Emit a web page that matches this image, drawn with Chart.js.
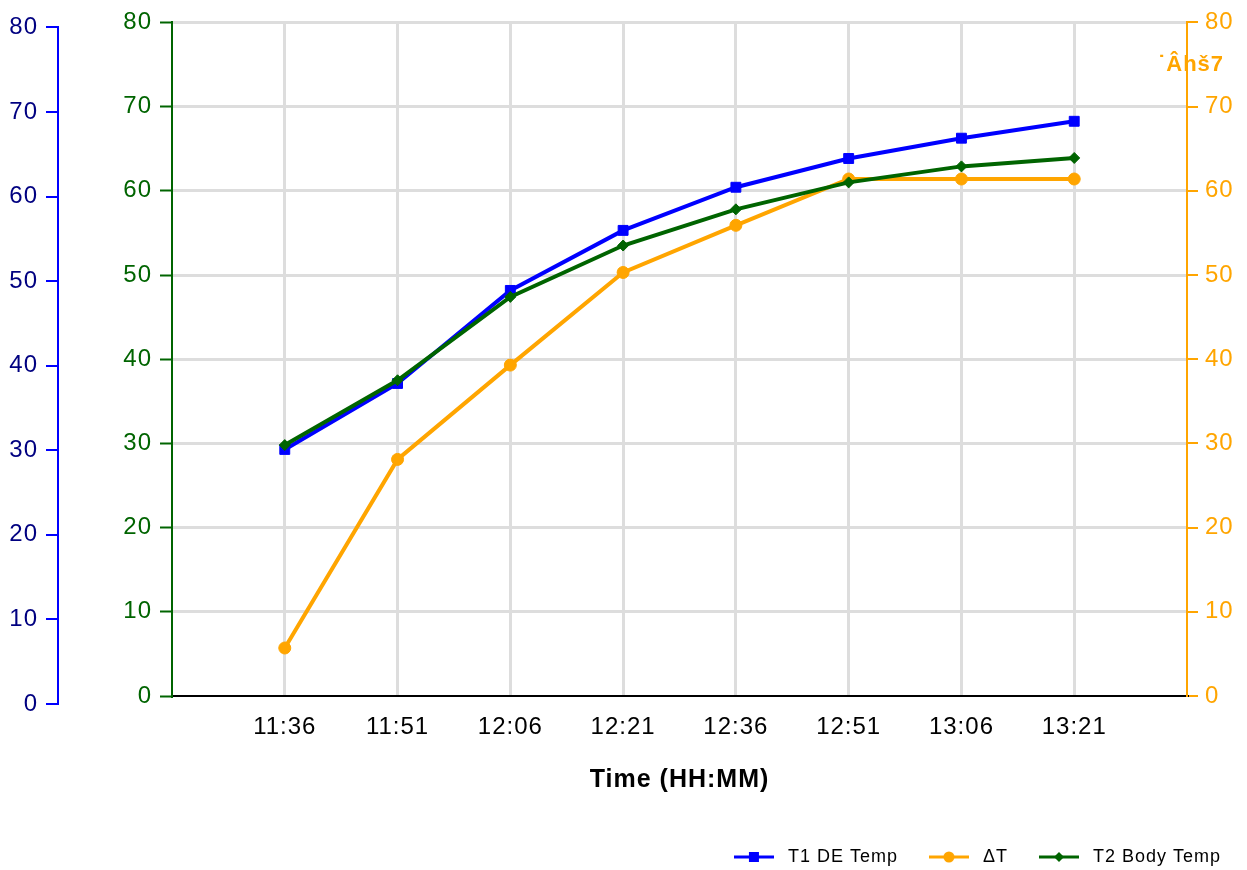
<!DOCTYPE html>
<html>
<head>
<meta charset="utf-8">
<script src="https://cdn.jsdelivr.net/npm/chart.js@4"></script>
<style>
  html, body { margin: 0; padding: 0; background: #fff; }
  #wrap { width: 1247px; height: 870px; }
</style>
</head>
<body>
<div id="wrap"><canvas id="graficaTemp"></canvas></div>
<script>
// datos
const horas = ['11:36', '11:51', '12:06', '12:21', '12:36', '12:51', '13:06', '13:21'];
const t1DeTemp = [30.1, 37.9, 48.9, 56.0, 61.1, 64.5, 66.9, 68.9];
const deltaT = [5.7, 28.1, 39.3, 50.3, 55.9, 61.4, 61.4, 61.4];
const t2BodyTemp = [29.8, 37.5, 47.4, 53.5, 57.8, 61.0, 62.9, 63.9];
const ticksY = [0, 10, 20, 30, 40, 50, 60, 70, 80];
const tituloDeltaT = '˙Âhš7';

const FUENTE = "'Liberation Sans', Arial, sans-serif";
const AZUL = '#0000FF';
const AZUL_OSC = '#000080';
const NARANJA = '#FFA500';
const VERDE = '#006400';
const GRIS = '#dddddd';

function puntos(valores) {
    return valores.map((v, i) => ({ x: i, y: v }));
}

// icono de linea + marcador para la leyenda
function iconoLeyenda(color, estilo) {
    const c = document.createElement('canvas');
    c.width = 40;
    c.height = 14;
    const g = c.getContext('2d');
    g.strokeStyle = color;
    g.fillStyle = color;
    g.lineWidth = 3;
    g.beginPath();
    g.moveTo(0, 7);
    g.lineTo(40, 7);
    g.stroke();
    g.beginPath();
    if (estilo === 'rect') {
        g.rect(15, 2, 10, 10);
    } else if (estilo === 'circle') {
        g.arc(20, 7, 5.5, 0, Math.PI * 2);
    } else {
        g.moveTo(20, 2); g.lineTo(25, 7); g.lineTo(20, 12); g.lineTo(15, 7);
        g.closePath();
    }
    g.fill();
    return c;
}

function ejeY(color, extra) {
    return Object.assign({
        type: 'linear',
        min: 0,
        max: 80,
        afterBuildTicks: (s) => { s.ticks = ticksY.map(v => ({ value: v })); },
        border: { color: color, width: 2 }
    }, extra);
}

// el texto de la referencia sale un poco mas ancho
const espaciado = {
    id: 'espaciado',
    beforeUpdate(chart) { chart.ctx.letterSpacing = '1px'; },
    beforeDraw(chart) { chart.ctx.letterSpacing = '1px'; }
};

const desplazarEjeAzul = {
    id: 'desplazarEjeAzul',
    afterLayout(chart) {
        const s = chart.scales.yT1;
        s.top += 5;
        s.bottom += 8;
        s.configure();
    }
};

const tituloNaranja = {
    id: 'tituloNaranja',
    afterDraw(chart) {
        const s = chart.scales.yDT;
        const ctx = chart.ctx;
        ctx.save();
        ctx.font = 'bold 22px ' + FUENTE;
        ctx.fillStyle = NARANJA;
        ctx.textAlign = 'center';
        ctx.textBaseline = 'middle';
        ctx.fillText(tituloDeltaT, s.left + 4, s.getPixelForValue(75));
        ctx.restore();
    }
};

function crearGrafica() {
    const ctx = document.getElementById('graficaTemp');

    const series = [
        { label: 'T1 DE Temp', data: puntos(t1DeTemp), color: AZUL, estilo: 'rect', radio: 7, eje: 'yT1', orden: 3 },
        { label: 'ΔT', data: puntos(deltaT), color: NARANJA, estilo: 'circle', radio: 6, eje: 'yDT', orden: 2 },
        { label: 'T2 Body Temp', data: puntos(t2BodyTemp), color: VERDE, estilo: 'rectRot', radio: 5.5, eje: 'yT2', orden: 1 }
    ];

    const fuenteTicks = { family: FUENTE, size: 24 };

    new Chart(ctx, {
        type: 'line',
        data: {
            datasets: series.map(s => ({
                label: s.label,
                data: s.data,
                yAxisID: s.eje,
                xAxisID: 'x',
                order: s.orden,
                borderColor: s.color,
                backgroundColor: s.color,
                borderWidth: 4,
                pointStyle: s.estilo,
                pointRadius: s.radio,
                pointBorderWidth: 1,
                tension: 0,
                clip: false
            }))
        },
        options: {
            responsive: true,
            maintainAspectRatio: false,
            animation: false,
            layout: { padding: { top: 22, right: 0, bottom: -6, left: 0 } },
            plugins: {
                tooltip: { enabled: false },
                legend: {
                    position: 'bottom',
                    align: 'end',
                    labels: {
                        usePointStyle: true,
                        pointStyleWidth: 50,
                        padding: 26,
                        color: '#000',
                        font: { family: FUENTE, size: 18 },
                        generateLabels: () => series.map((s, i) => ({
                            text: s.label,
                            pointStyle: iconoLeyenda(s.color, s.estilo),
                            fillStyle: s.color,
                            strokeStyle: s.color,
                            lineWidth: 0,
                            hidden: false,
                            datasetIndex: i
                        }))
                    }
                }
            },
            scales: {
                x: {
                    type: 'linear',
                    position: 'bottom',
                    min: -1,
                    max: 8,
                    afterBuildTicks: (s) => {
                        s.ticks = [];
                        for (let i = -1; i <= horas.length; i++) s.ticks.push({ value: i });
                    },
                    afterFit: (s) => { s.height = 126; },
                    ticks: {
                        autoSkip: false,
                        maxRotation: 0,
                        padding: 17,
                        color: '#000',
                        font: fuenteTicks,
                        callback: (v) => horas[v] ?? ''
                    },
                    grid: {
                        drawTicks: false,
                        lineWidth: 3,
                        color: (c) => (c.tick && (c.tick.value < 0 || c.tick.value >= horas.length)) ? 'rgba(0,0,0,0)' : GRIS
                    },
                    border: { color: '#000', width: 2 },
                    title: {
                        display: true,
                        text: 'Time (HH:MM)',
                        color: '#000',
                        font: { family: FUENTE, size: 25, weight: 'bold' },
                        padding: { top: 0, bottom: 27 }
                    }
                },
                yT1: ejeY(AZUL, {
                    position: 'left',
                    weight: 1,
                    afterFit: (s) => { s.width = 58; },
                    ticks: { color: AZUL_OSC, padding: 8, font: fuenteTicks },
                    grid: { drawOnChartArea: false, tickLength: 12, tickColor: AZUL, tickWidth: 2, lineWidth: 2 }
                }),
                yT2: ejeY(VERDE, {
                    position: 'left',
                    weight: 0,
                    afterFit: (s) => { s.width = 114; },
                    ticks: { color: VERDE, padding: 8, font: fuenteTicks },
                    grid: {
                        lineWidth: 3,
                        color: (c) => (c.tick && c.tick.value === 0) ? 'rgba(0,0,0,0)' : GRIS,
                        tickLength: 12, tickColor: VERDE, tickWidth: 2
                    }
                }),
                yDT: ejeY(NARANJA, {
                    position: 'right',
                    afterFit: (s) => { s.width = 60; },
                    ticks: { color: NARANJA, padding: 7, font: fuenteTicks },
                    grid: { drawOnChartArea: false, tickLength: 11, tickColor: NARANJA, tickWidth: 2, lineWidth: 2 }
                })
            }
        },
        plugins: [espaciado, desplazarEjeAzul, tituloNaranja]
    });
}

document.addEventListener('DOMContentLoaded', () => {
    crearGrafica();
});
</script>
</body>
</html>
